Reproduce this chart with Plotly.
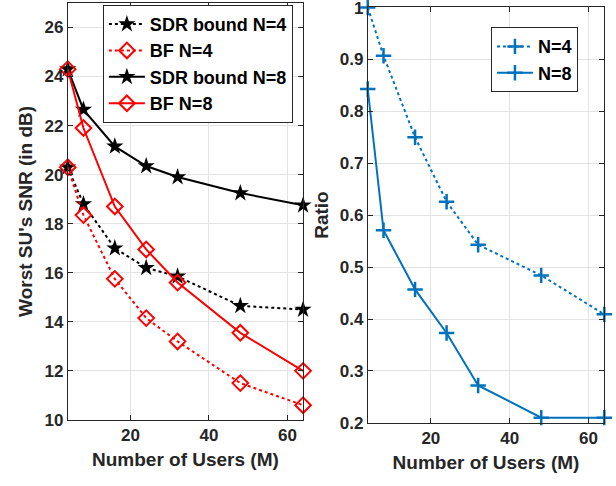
import plotly.graph_objects as go

users = [4, 8, 16, 24, 32, 48, 64]
sdr_n4 = [20.3, 18.8, 17.0, 16.2, 15.85, 14.65, 14.5]
bf_n4 = [20.3, 18.35, 15.75, 14.15, 13.2, 11.5, 10.6]
sdr_n8 = [24.3, 22.65, 21.15, 20.35, 19.9, 19.25, 18.75]
bf_n8 = [24.3, 21.9, 18.7, 16.95, 15.6, 13.55, 12.0]
ratio_n4 = [1.0, 0.907, 0.75, 0.626, 0.543, 0.484, 0.409]
ratio_n8 = [0.843, 0.571, 0.457, 0.373, 0.272, 0.21, 0.21]

left_yticks = [10, 12, 14, 16, 18, 20, 22, 24, 26]
right_yticks = [0.2, 0.3, 0.4, 0.5, 0.6, 0.7, 0.8, 0.9, 1.0]
right_yticktext = ["0.2", "0.3", "0.4", "0.5", "0.6", "0.7", "0.8", "0.9", "1"]
xticks = [20, 40, 60]

FONT = "Liberation Sans, Arial, sans-serif"
AX = "#262626"
GRID = "#e3e3e3"
BLUE = "#0072BD"

fig = go.Figure()
fig.add_trace(go.Scatter(x=users, y=sdr_n4, name="SDR bound N=4", mode="lines+markers",
                         line=dict(color="black", width=2, dash="dot"),
                         marker=dict(symbol="star", size=13, color="black"),
                         xaxis="x", yaxis="y", legend="legend", cliponaxis=False))
fig.add_trace(go.Scatter(x=users, y=bf_n4, name="BF N=4", mode="lines+markers",
                         line=dict(color="#ff0000", width=2, dash="dot"),
                         marker=dict(symbol="diamond-open", size=12, color="#ff0000", line=dict(width=2)),
                         xaxis="x", yaxis="y", legend="legend", cliponaxis=False))
fig.add_trace(go.Scatter(x=users, y=sdr_n8, name="SDR bound N=8", mode="lines+markers",
                         line=dict(color="black", width=2),
                         marker=dict(symbol="star", size=13, color="black"),
                         xaxis="x", yaxis="y", legend="legend", cliponaxis=False))
fig.add_trace(go.Scatter(x=users, y=bf_n8, name="BF N=8", mode="lines+markers",
                         line=dict(color="#ff0000", width=2),
                         marker=dict(symbol="diamond-open", size=12, color="#ff0000", line=dict(width=2)),
                         xaxis="x", yaxis="y", legend="legend", cliponaxis=False))
fig.add_trace(go.Scatter(x=users, y=ratio_n4, name="N=4", mode="lines+markers",
                         line=dict(color=BLUE, width=2, dash="dot"),
                         marker=dict(symbol="cross-thin-open", size=11, color=BLUE, line=dict(width=2.5, color=BLUE)),
                         xaxis="x2", yaxis="y2", legend="legend2", cliponaxis=False))
fig.add_trace(go.Scatter(x=users, y=ratio_n8, name="N=8", mode="lines+markers",
                         line=dict(color=BLUE, width=2),
                         marker=dict(symbol="cross-thin-open", size=11, color=BLUE, line=dict(width=2.5, color=BLUE)),
                         xaxis="x2", yaxis="y2", legend="legend2", cliponaxis=False))

axis_common = dict(showline=True, linecolor=AX, linewidth=1, mirror="ticks",
                   ticks="inside", ticklen=5, tickcolor=AX, showgrid=True,
                   gridcolor=GRID, gridwidth=1, zeroline=False, automargin=False,
                   ticklabeloverflow="allow",
                   tickfont=dict(family=FONT, size=17, color=AX, weight="bold"))
title_font = dict(family=FONT, size=19, color=AX, weight="bold")
legend_font = dict(family=FONT, size=18, color="black", weight="bold")

fig.update_layout(
    width=616, height=486,
    margin=dict(l=0, r=0, t=0, b=0),
    paper_bgcolor="white", plot_bgcolor="white",
    font=dict(family=FONT, color=AX),
    xaxis=dict(domain=[0.110, 0.492], range=[4, 64], tickvals=xticks, anchor="y",
               title=dict(text="Number of Users (M)", font=title_font, standoff=8),
               **axis_common),
    yaxis=dict(domain=[0.136, 0.994], range=[10, 27], tickvals=left_yticks, anchor="x",
               title=dict(text="Worst SU's SNR (in dB)", font=title_font, standoff=6),
               **axis_common),
    xaxis2=dict(domain=[0.597, 0.981], range=[4, 64], tickvals=xticks, anchor="y2",
                title=dict(text="Number of Users (M)", font=title_font, standoff=8),
                **axis_common),
    yaxis2=dict(domain=[0.130, 0.985], range=[0.2, 1.0005], tickvals=right_yticks,
                ticktext=right_yticktext, anchor="x2",
                title=dict(text="Ratio", font=title_font, standoff=6),
                **axis_common),
    legend=dict(x=0.167, y=0.990, xanchor="left", yanchor="top",
                bgcolor="white", bordercolor=AX, borderwidth=1,
                font=legend_font, tracegroupgap=0, itemwidth=36),
    legend2=dict(x=0.797, y=0.944, xanchor="left", yanchor="top",
                 bgcolor="white", bordercolor=AX, borderwidth=1,
                 font=legend_font, tracegroupgap=0, itemwidth=36),
)

fig.write_html("out.html", config={"displayModeBar": False},
               post_script="document.body.style.margin='0';")
